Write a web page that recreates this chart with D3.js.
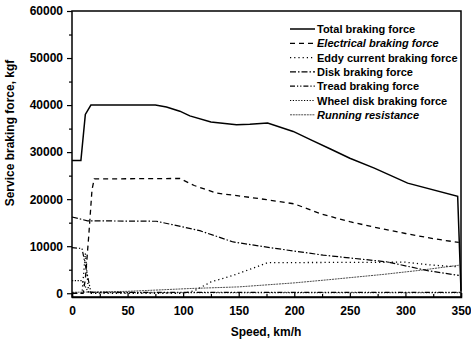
<!DOCTYPE html>
<html>
<head>
<meta charset="utf-8">
<script src="https://cdn.jsdelivr.net/npm/d3@7"></script>
<style>
  body { margin: 0; background: #fff; }
  text { font-family: "Liberation Sans", Arial, sans-serif; }
</style>
</head>
<body>
<div id="chart"></div>
<script>
// data: [speed km/h, force kgf]
const totalForce = [[0,28200],[8,28200],[12,38000],[17,40000],[75,40000],[85,39600],[97,38700],[106,37700],[125,36400],[148,35800],[160,35900],[176,36200],[199,34400],[215,32600],[233,30600],[250,28700],[272,26600],[302,23400],[347,20600],[350,500]];
const electricForce = [[0,0],[10,0],[12,3000],[15,12000],[18,22000],[20,24300],[97,24400],[110,22900],[130,21300],[150,20700],[175,19900],[200,19000],[225,16800],[250,15200],[275,13900],[300,12700],[325,11600],[348,10800]];
const eddyForce = [[0,0],[9,0],[12,8500],[15,0],[100,0],[110,500],[125,2400],[145,3800],[166,5600],[176,6500],[300,6600],[323,6000],[348,5600]];
const diskForce = [[0,16200],[14,15400],[76,15300],[90,14600],[115,13300],[145,10900],[181,9600],[226,8100],[284,6650],[320,4800],[348,3800]];
const treadForce = [[0,9700],[9,9500],[17,200],[350,200]];
const wheelDiskForce = [[0,2700],[9,2700],[15,100],[350,100]];
const runningResistance = [[0,200],[50,400],[106,1000],[150,1350],[200,2200],[232,2900],[280,4000],[314,4900],[348,5950]];

const seriesNames = ["Total braking force","Electrical braking force","Eddy current braking force","Disk braking force","Tread braking force","Wheel disk braking force","Running resistance"];
const seriesData = [totalForce, electricForce, eddyForce, diskForce, treadForce, wheelDiskForce, runningResistance];
const seriesDash = ["", "5,4", "1.2,3", "6,2,1.5,2", "5,2,1.2,2,1.2,2", "1.2,1.6", "2,0.8"];
const seriesWidth = [1.5, 1.3, 1.3, 1.2, 1.2, 1.2, 0.7];
const legendItalic = [false, true, false, false, false, false, true];

const xTicks = d3.range(0, 351, 25);
const yTicks = d3.range(0, 60001, 5000);

const W = 471, H = 341;
const svg = d3.select("#chart").append("svg").attr("width", W).attr("height", H);

const x = d3.scaleLinear().domain([0, 350]).range([72, 461]);
const y = d3.scaleLinear().domain([-800, 60000]).range([297, 11]);

// frame
svg.append("rect")
  .attr("x", 72).attr("y", 11)
  .attr("width", 461 - 72).attr("height", 297 - 11)
  .attr("fill", "none").attr("stroke", "#000").attr("stroke-width", 1.5);

// x axis, ticks pointing in
let xAxis = svg.append("g").attr("transform", "translate(0,297)")
  .call(d3.axisBottom(x).tickValues(xTicks).tickSize(-4).tickPadding(9)
    .tickFormat(d => d % 50 === 0 ? d : ""));
xAxis.select(".domain").attr("stroke-width", 1.5);
xAxis.selectAll(".tick line").attr("stroke-width", 1.2)
  .attr("y2", d => d % 50 === 0 ? -4 : -3);
xAxis.selectAll("text").style("font-size", "12px").style("font-weight", "bold")
  .attr("fill", "#000");

// y axis, ticks pointing out
let yAxis = svg.append("g").attr("transform", "translate(72,0)")
  .call(d3.axisLeft(y).tickValues(yTicks).tickSize(5).tickPadding(4)
    .tickFormat(d => d % 10000 === 0 ? d : ""));
yAxis.select(".domain").remove();
yAxis.selectAll(".tick line").attr("stroke-width", 1.2)
  .attr("x2", d => d % 10000 === 0 ? -5 : -3);
yAxis.selectAll("text").style("font-size", "12px").style("font-weight", "bold")
  .attr("fill", "#000");

// axis titles
svg.append("text")
  .attr("x", 266).attr("y", 336)
  .attr("text-anchor", "middle")
  .style("font-size", "12px").style("font-weight", "bold")
  .text("Speed, km/h");

svg.append("text")
  .attr("transform", "translate(14,133) rotate(-90)")
  .attr("text-anchor", "middle")
  .style("font-size", "12px").style("font-weight", "bold")
  .text("Service braking force, kgf");

// curves
let lineGen = d3.line().x(d => x(d[0])).y(d => y(d[1]));

svg.selectAll("path.curve")
  .data(seriesData)
  .enter()
  .append("path")
  .attr("class", "curve")
  .attr("fill", "none")
  .attr("stroke", "#000")
  .attr("stroke-width", (d, i) => seriesWidth[i])
  .attr("stroke-dasharray", (d, i) => seriesDash[i])
  .attr("d", lineGen);

// legend
let legend = svg.append("g").attr("transform", "translate(290,29)");
seriesNames.forEach((name, i) => {
  let row = legend.append("g").attr("transform", "translate(0," + (i * 14.3) + ")");
  row.append("line")
    .attr("x1", 0).attr("x2", 25).attr("y1", 0).attr("y2", 0)
    .attr("stroke", "#000")
    .attr("stroke-width", seriesWidth[i])
    .attr("stroke-dasharray", seriesDash[i]);
  row.append("text")
    .attr("x", 27).attr("y", 4)
    .style("font-size", "11px").style("font-weight", "bold")
    .style("font-style", legendItalic[i] ? "italic" : "normal")
    .text(name);
});
</script>
</body>
</html>
